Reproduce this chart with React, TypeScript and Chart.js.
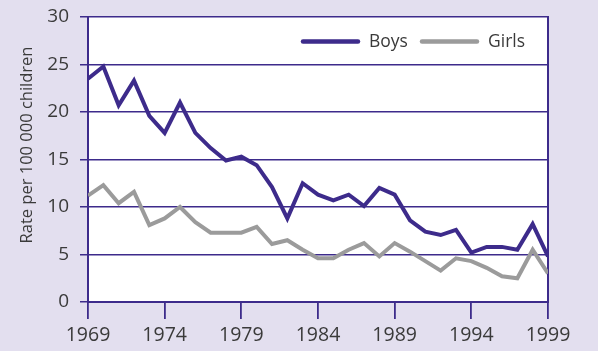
import React, { useEffect, useRef } from "react";
import { Chart, registerables } from "chart.js";

Chart.register(...registerables);

const years: number[] = [
  1969, 1970, 1971, 1972, 1973, 1974, 1975, 1976, 1977, 1978, 1979,
  1980, 1981, 1982, 1983, 1984, 1985, 1986, 1987, 1988, 1989,
  1990, 1991, 1992, 1993, 1994, 1995, 1996, 1997, 1998, 1999,
];
const boys: number[] = [
  23.5, 24.8, 20.7, 23.3, 19.6, 17.8, 21.0, 17.8, 16.2, 14.9, 15.3,
  14.4, 12.1, 8.8, 12.5, 11.3, 10.7, 11.3, 10.1, 12.0, 11.3,
  8.6, 7.4, 7.05, 7.6, 5.2, 5.8, 5.8, 5.5, 8.2, 4.8,
];
const girls: number[] = [
  11.2, 12.3, 10.4, 11.6, 8.1, 8.8, 10.0, 8.4, 7.3, 7.3, 7.3,
  7.9, 6.1, 6.5, 5.5, 4.6, 4.6, 5.5, 6.2, 4.8, 6.2,
  5.3, 4.3, 3.3, 4.6, 4.3, 3.6, 2.7, 2.5, 5.5, 3.0,
];
const seriesNames: string[] = ["Boys", "Girls"];
const yTitle = "Rate per 100 000 children";

const PURPLE = "#3d2b8b";
const GREY = "#9b9b9b";
const TEXT = "#3a3a3a";
const BG = "#e3dfef";
const FONT = "'Open Sans', 'Noto Sans', sans-serif";

export default function App() {
  const ref = useRef<HTMLCanvasElement | null>(null);
  useEffect(() => {
    if (!ref.current) return;
    const whiteArea = {
      id: "whiteArea",
      beforeDraw(chart: any) {
        const { ctx, chartArea } = chart;
        ctx.save();
        ctx.fillStyle = "#ffffff";
        ctx.fillRect(chartArea.left, chartArea.top, chartArea.right - chartArea.left, chartArea.bottom - chartArea.top);
        ctx.restore();
      },
    };
    const extras = {
      id: "extras",
      afterDraw(chart: any) {
        const { ctx } = chart;
        ctx.save();
        ctx.translate(27, 145);
        ctx.rotate(-Math.PI / 2);
        ctx.font = `16.5px ${FONT}`;
        ctx.fillStyle = TEXT;
        ctx.textAlign = "center";
        ctx.textBaseline = "middle";
        ctx.fillText(yTitle, 0, 0);
        ctx.restore();
        ctx.save();
        ctx.font = `17.5px ${FONT}`;
        ctx.textBaseline = "middle";
        ctx.textAlign = "left";
        const items = [
          { x: 303, color: chart.data.datasets[0].borderColor, label: chart.data.datasets[0].label },
          { x: 422, color: chart.data.datasets[1].borderColor, label: chart.data.datasets[1].label },
        ];
        const ly = 41.5;
        for (const it of items) {
          ctx.strokeStyle = it.color;
          ctx.lineWidth = 4.5;
          ctx.lineCap = "round";
          ctx.beginPath();
          ctx.moveTo(it.x, ly);
          ctx.lineTo(it.x + 55, ly);
          ctx.stroke();
          ctx.fillStyle = TEXT;
          ctx.fillText(it.label, it.x + 66, ly + 1);
        }
        ctx.restore();
      },
    };
    const chart = new Chart(ref.current, {
      type: "line",
      data: {
        datasets: [
          {
            label: seriesNames[0],
            data: years.map((y, i) => ({ x: y, y: boys[i] })),
            borderColor: PURPLE,
            borderWidth: 4,
            pointRadius: 0,
            tension: 0,
          },
          {
            label: seriesNames[1],
            data: years.map((y, i) => ({ x: y, y: girls[i] })),
            borderColor: GREY,
            borderWidth: 4,
            pointRadius: 0,
            tension: 0,
          },
        ],
      },
      options: {
        animation: false,
        responsive: false,
        layout: { padding: { left: 0, right: 50, top: 17, bottom: 0 } },
        plugins: { legend: { display: false }, tooltip: { enabled: false } },
        scales: {
          x: {
            type: "linear",
            min: 1969,
            max: 1999,
            afterFit(scale: any) {
              scale.height = 49;
              scale.paddingLeft = 0;
              scale.paddingRight = 0;
            },
            ticks: {
              stepSize: 5,
              callback: (v: any) => String(v),
              color: TEXT,
              font: { family: FONT, size: 19.5 },
              padding: 5,
              maxRotation: 0,
            },
            grid: { drawOnChartArea: false, drawTicks: true, tickLength: 17, color: PURPLE, lineWidth: 1.8 },
            border: { display: true, color: PURPLE, width: 2 },
          },
          y: {
            min: 0,
            max: 30,
            afterFit(scale: any) {
              scale.width = 88;
              scale.paddingTop = 0;
              scale.paddingBottom = 0;
            },
            ticks: {
              stepSize: 5,
              color: TEXT,
              font: { family: FONT, size: 19 },
              padding: 11,
            },
            grid: { color: PURPLE, lineWidth: 1.5, tickLength: 8 },
            border: { display: true, color: PURPLE, width: 2 },
          },
          yRight: {
            position: "right",
            display: true,
            min: 0,
            max: 30,
            afterFit(scale: any) {
              scale.width = 0;
              scale.paddingTop = 0;
              scale.paddingBottom = 0;
            },
            ticks: { display: false },
            grid: { display: false, drawTicks: false },
            border: { display: true, color: PURPLE, width: 2 },
          },
        },
      },
      plugins: [whiteArea, extras],
    } as any);
    return () => chart.destroy();
  }, []);
  return (
    <div style={{ position: "fixed", left: 0, top: 0, width: 598, height: 351, background: BG }}>
      <canvas ref={ref} width={598} height={351} style={{ display: "block", width: 598, height: 351 }} />
    </div>
  );
}
